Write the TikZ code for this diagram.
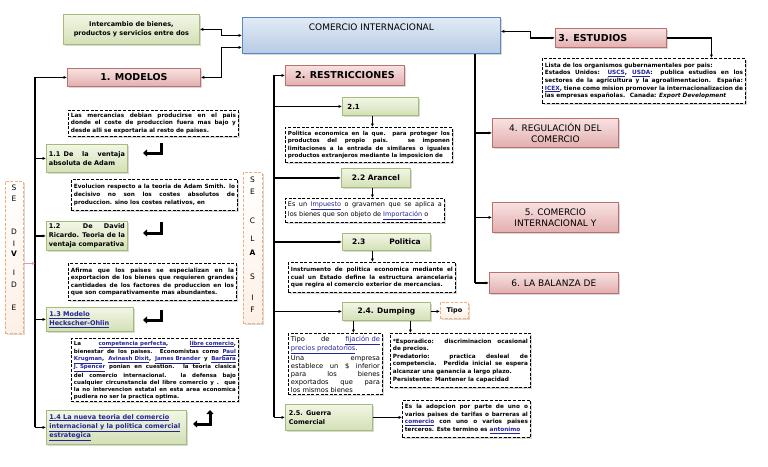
\documentclass[tikz,border=0pt]{standalone}
\usepackage{fontspec}
\setmainfont{DejaVu Sans}
\usetikzlibrary{arrows.meta,shadows}

\definecolor{pinkline}{HTML}{B97070}
\definecolor{pinktop}{HTML}{F8E2E2}
\definecolor{pinkbot}{HTML}{E3AEAE}
\definecolor{greenline}{HTML}{A3BC78}
\definecolor{greentop}{HTML}{F2F6E6}
\definecolor{greenbot}{HTML}{D3E0B6}
\definecolor{blueline}{HTML}{5B87C0}
\definecolor{bluetop}{HTML}{E2EBF6}
\definecolor{bluebot}{HTML}{B7CBE4}
\definecolor{orangeline}{HTML}{F2AE7C}
\definecolor{orangefill}{HTML}{FDF0E6}
\definecolor{linkblue}{HTML}{24249C}
\definecolor{pinkarrow}{HTML}{E49A9A}

\newcommand\lk[1]{{\color{linkblue}\underline{#1}}}
\newcommand\fulljust{\parfillskip=0pt\relax}
\newcommand\bodyfont{\fontsize{5.75}{7.6}\selectfont\bfseries}
\newcommand\titlefont{\fontsize{9.5}{11}\selectfont\bfseries}
\newcommand\capfont{\fontsize{9}{11}\selectfont}
\newcommand\greenfont{\fontsize{6.5}{9}\selectfont\bfseries}
\hyphenpenalty=10000
\exhyphenpenalty=10000

\tikzset{
  boxshadow/.style={drop shadow={shadow xshift=1.3pt, shadow yshift=-1.3pt, opacity=0.3}},
  pinkbox/.style={draw=pinkline, top color=pinktop, bottom color=pinkbot, line width=0.8pt,
    anchor=north west, inner sep=2pt, align=center, boxshadow},
  greenbox/.style={draw=greenline, top color=greentop, bottom color=greenbot, line width=0.8pt,
    anchor=north west, inner sep=2pt, align=center, font=\greenfont, boxshadow},
  bluebox/.style={draw=blueline, top color=bluetop, bottom color=bluebot, line width=0.8pt,
    anchor=north west, boxshadow},
  dashbox/.style={draw, dash pattern=on 3pt off 1.6pt, line width=0.9pt, fill=white,
    anchor=north west, inner sep=2.5pt, align=justify, font=\bodyfont, boxshadow},
  orangebox/.style={draw=orangeline, dash pattern=on 3pt off 1.5pt, line width=0.9pt,
    top color=white, bottom color=orangefill, anchor=north west, inner sep=2pt, boxshadow},
  conn/.style={line width=1.2pt},
  arr/.style={conn, -{Latex[length=3.5pt,width=3.2pt]}},
  link/.style={conn, {Latex[length=3.5pt,width=3.2pt]}-{Latex[length=3.5pt,width=3.2pt]}},
  hookarr/.style={line width=3pt, -{Triangle[length=4pt,width=7pt]}},
}

\begin{document}
\begin{tikzpicture}[x=1pt,y=-1pt]
  \fill[white] (0,0) rectangle (768,466);
  \useasboundingbox (0,0) rectangle (768,466);

  \node[greenbox, minimum width=136, minimum height=30, font=\fontsize{6.5}{9.5}\selectfont\bfseries] (interc) at (63,14)
    {Intercambio de bienes,\\productos y servicios entre dos};
  \node[bluebox, minimum width=258, minimum height=36,
    label={[anchor=north, yshift=-3pt, font=\capfont]north:COMERCIO INTERNACIONAL}] (main) at (242,17) {};
  \node[pinkbox, minimum width=133, minimum height=18, font=\titlefont] (mod) at (67,68) {1. MODELOS};
  \node[pinkbox, minimum width=119, minimum height=20, font=\titlefont] (res) at (285,65) {2. RESTRICCIONES};
  \node[pinkbox, minimum width=111, minimum height=19, text width=105, align=left, font=\titlefont] (est) at (555,28) {3. ESTUDIOS};
  \node[dashbox, text width=198, minimum height=45, font=\fontsize{5.8}{7.6}\selectfont\bfseries] (estd) at (542,58)
    {Lista de los organismos gubernamentales por pais:\\
     \fulljust Estados Unidos: \lk{USCS}, \lk{USDA}: publica estudios en los\linebreak
     sectores de la agricultura y la agroalimentacion. España:\linebreak
     \lk{ICEX}, tiene como mision promover la internacionalizacion de\linebreak
     las empresas españolas. \ Canada: \textit{Export Development}};

  \node[pinkbox, minimum width=126, minimum height=29, font=\capfont] (r4) at (492,118) {4. REGULACIÓN DEL\\COMERCIO};
  \node[pinkbox, minimum width=126, minimum height=30, font=\capfont] (r5) at (492,202) {5. COMERCIO\\INTERNACIONAL Y};
  \node[pinkbox, minimum width=129, minimum height=21, font=\capfont] (r6) at (489,272) {6. LA BALANZA DE};

  \node[dashbox, text width=165, minimum height=25] (d11) at (68,110)
    {Las mercancias debian producirse en el pais\linebreak
     donde el coste de produccion fuera mas bajo y\linebreak
     desde alli se exportaria al resto de paises.};
  \node[greenbox, minimum width=81, minimum height=28, text width=76, align=justify] (b11) at (46,144)
    {\fulljust 1.1\enspace De la ventaja\linebreak absoluta de Adam};
  \node[dashbox, text width=161, minimum height=31] (d12) at (71,179)
    {\fulljust Evolucion respecto a la teoria de Adam Smith. lo\linebreak
     decisivo no son los costes absolutos de\linebreak
     produccion. sino los costes relativos, en};
  \node[greenbox, minimum width=81, minimum height=29, text width=76, align=justify] (b12) at (46,221)
    {1.2 \ De David\linebreak Ricardo. Teoria de la\linebreak ventaja comparativa};
  \node[dashbox, text width=163, minimum height=37] (d13) at (68,263)
    {Afirma que los paises se especializan en la\linebreak
     exportacion de los bienes que requieren grandes\linebreak
     cantidades de los factores de produccion en los\linebreak
     que son comparativamente mas abundantes.};
  \node[greenbox, minimum width=87, minimum height=24, text width=81, align=left] (b13) at (46,307)
    {\lk{1.3 Modelo}\\\lk{Heckscher-Ohlin}};
  \node[dashbox, text width=162, minimum height=60, font=\fontsize{5.5}{7}\selectfont\bfseries] (d14) at (71,338)
    {La \lk{competencia perfecta}, \lk{libre comercio},\linebreak
     bienestar de los paises. Economistas como \lk{Paul}\linebreak
     \lk{Krugman}, \lk{Avinash Dixit}, \lk{James Brander} y \lk{Barbara}\linebreak
     \lk{J. Spencer} ponian en cuestion. la teoria clasica\linebreak
     del comercio internacional. la defensa bajo\linebreak
     cualquier circunstancia del libre comercio y . que\linebreak
     la no intervencion estatal en esta area economica\linebreak
     pudiera no ser la practica optima.};
  \node[greenbox, minimum width=140, minimum height=34, text width=134, align=justify] (b14) at (46,410)
    {\lk{1.4 La nueva teoria del comercio}\linebreak
     \lk{internacional y la politica comercial}\linebreak
     \lk{estrategica}};

  \node[greenbox, minimum width=76, minimum height=18, text width=66, align=left, font=\fontsize{7}{9}\selectfont\bfseries] (r21) at (342,97) {2.1};
  \node[dashbox, text width=162, minimum height=35, font=\fontsize{5.6}{7.6}\selectfont\bfseries] (d21) at (285,127)
    {\fulljust Politica economica en la que. para proteger los\linebreak
     productos del propio pais. se imponen\linebreak
     limitaciones a la entrada de similares o iguales\linebreak
     productos extranjeros mediante la imposicion de};
  \node[greenbox, minimum width=69, minimum height=19, font=\fontsize{7.5}{9}\selectfont\bfseries] (r22) at (341,168) {2.2 Arancel};
  \node[dashbox, text width=154, minimum height=24, font=\fontsize{6.5}{8}\selectfont] (d22) at (285,198)
    {\fulljust Es un \lk{Impuesto} o gravamen que se aplica a\linebreak
     los bienes que son objeto de \lk{Importación} o};
  \node[greenbox, minimum width=88, minimum height=17, font=\fontsize{7.5}{9}\selectfont\bfseries] (r23) at (342,233) {2.3\hspace{24pt}Politica};
  \node[dashbox, text width=162, minimum height=30] (d23) at (288,262)
    {Instrumento de politica economica mediante el\linebreak
     cual un Estado define la estructura arancelaria\linebreak
     que regira el comercio exterior de mercancias.};
  \node[greenbox, minimum width=88, minimum height=18, font=\fontsize{7.5}{9}\selectfont\bfseries] (r24) at (342,302) {2.4. Dumping};
  \node[orangebox, minimum width=28, minimum height=16, font=\fontsize{6.5}{8}\selectfont\bfseries] (tipo) at (440,302) {Tipo};
  \node[dashbox, text width=89, minimum height=59, font=\fontsize{6.7}{8}\selectfont] (d24a) at (288,333)
    {\fulljust Tipo de \lk{fijación de}\linebreak
     \lk{precios predatorios}.\linebreak
     Una empresa\linebreak
     establece un \$ inferior\linebreak
     para los bienes\linebreak
     exportados que para\linebreak
     los mismos bienes};
  \node[dashbox, text width=135, minimum height=54] (d24b) at (390,333)
    {\fulljust *Esporadico: discriminacion ocasional\linebreak
     de precios.\\
     *Predatorio: practica desleal de\linebreak
     competencia. Perdida inicial se espera\linebreak
     alcanzar una ganancia a largo plazo.\\
     *Persistente: Mantener la capacidad};
  \node[greenbox, minimum width=87, minimum height=26, text width=80, align=left] (r25) at (285,404) {2.5. Guerra\\Comercial};
  \node[dashbox, text width=123, minimum height=37] (d25) at (402,400)
    {\fulljust Es la adopcion por parte de uno o\linebreak
     varios paises de tarifas o barreras al\linebreak
     \lk{comercio} con uno o varios paises\linebreak
     terceros. Este termino es \lk{antonimo}};

  \node[orangebox, minimum width=18, minimum height=152] (sed) at (5,181) {};
  \foreach \l/\y in {S/188,E/199,D/232,I/244,\textbf{V}/254,I/273,D/285,E/308}
    \node[font=\fontsize{7.5}{8}\selectfont] (sd\y) at (14,\y) {\l};
  \node[orangebox, minimum width=19, minimum height=151] (scl) at (243,172) {};
  \foreach \l/\y in {S/180,E/192,C/221,L/239,\textbf{A}/253,S/277,I/298,F/310}
    \node[font=\fontsize{7.5}{8}\selectfont] (sc\y) at (252.5,\y) {\l};

  \coordinate (s1) at (35,0);
  \coordinate (s2) at (274,0);
  \coordinate (s3) at (475,0);

  \draw[link] (interc.east) -- ++(22,0) |- (main.west);
  \draw[link] (mod.east) -- ++(21,0) |- ([yshift=-12pt]main.west);
  \draw[link] ([yshift=4pt]main.east) -- ++(30,0) |- (est.west);
  \draw[arr] (est.east) -| ([xshift=67.5pt]estd.north);

  \draw[arr] (s1 |- b14.west) |- (mod.west);
  \foreach \n in {b11,b12,b13,b14}
    \draw[arr] (s1 |- \n.west) -- (\n.west);
  \coordinate (pa) at ([yshift=-6pt]sed.east);
  \draw[pinkarrow, line width=0.8pt, -{Latex[length=3pt,width=3pt]}] (pa) -- (pa -| s1);

  \draw[arr] (s2 |- r25.west) |- (res.west);
  \foreach \n in {r21,r22,r23,r24,r25}
    \draw[arr] (s2 |- \n.west) -- (\n.west);

  \draw[conn] (s3 |- main.south) -- (s3 |- r6.west);
  \foreach \n in {r4,r5,r6}
    \draw[arr] (s3 |- \n.west) -- (\n.west);

  \coordinate (a21) at ([xshift=-8pt]r21.south);
  \coordinate (a22) at ([xshift=-3.5pt]r22.south);
  \coordinate (a23) at ([xshift=-14pt]r23.south);
  \coordinate (a24) at ([xshift=-33pt]r24.south);
  \coordinate (b24) at ([xshift=24pt]r24.south);
  \draw[arr] (a21) -- (a21 |- d21.north);
  \draw[arr] (a22) -- (a22 |- d22.north);
  \draw[arr] (a23) -- (a23 |- d23.north);
  \draw[arr] (a24) -- (a24 |- d24a.north);
  \draw[arr] (b24) -- (b24 |- d24b.north);
  \draw[arr] (r24.east) -- (r24.east -| tipo.west);
  \draw[arr, line width=1.6pt] (r25.east) -- (r25.east -| d25.west);

  \draw[hookarr] (161,143) -- (161,153) -- (143,153);
  \draw[hookarr] (161,222) -- (161,233) -- (143,233);
  \draw[hookarr] (161,310) -- (161,320) -- (143,320);
  \draw[hookarr, {Triangle[length=4pt,width=7pt]}-{Triangle[length=4pt,width=7pt]}] (210,410) -- (210,424) -- (193,424);
\end{tikzpicture}
\end{document}
